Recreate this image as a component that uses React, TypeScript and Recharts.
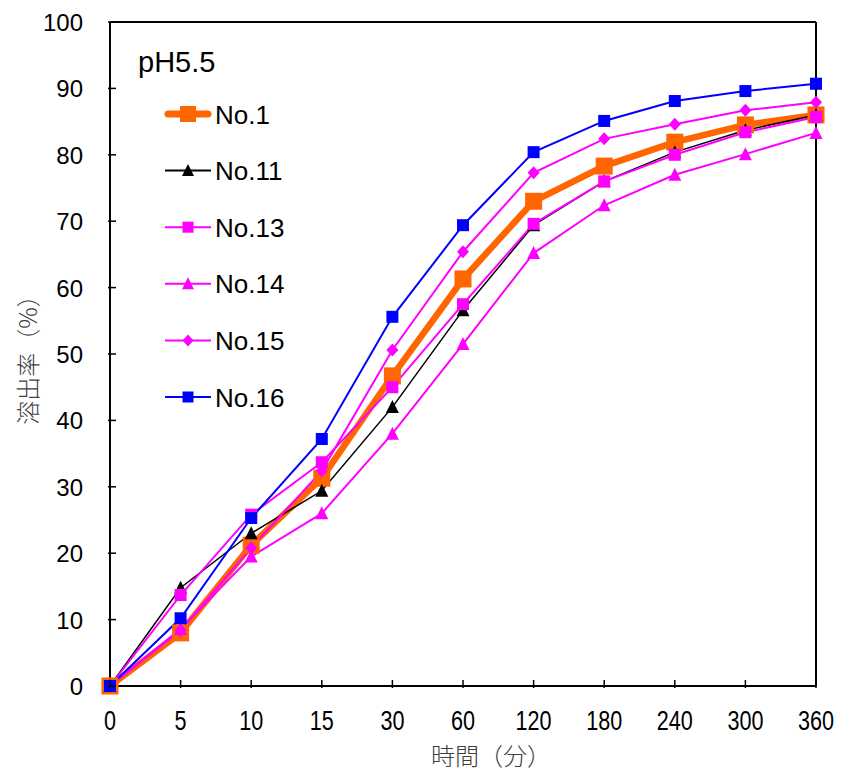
import React from "react";
import { LineChart, Line, XAxis, YAxis, ReferenceLine } from "recharts";

const times = ["0", "5", "10", "15", "30", "60", "120", "180", "240", "300", "360"];
const no1 = [0, 8.0, 21.2, 31.3, 46.7, 61.3, 73.0, 78.3, 81.9, 84.5, 86.0];
const no11 = [0, 14.8, 23.0, 29.4, 42.0, 56.6, 69.4, 76.0, 80.4, 83.7, 86.0];
const no13 = [0, 13.7, 25.8, 33.7, 45.0, 57.5, 69.6, 76.0, 80.0, 83.4, 85.7];
const no14 = [0, 8.6, 19.5, 26.0, 38.0, 51.5, 65.2, 72.4, 77.0, 80.1, 83.3];
const no15 = [0, 8.4, 20.8, 32.4, 50.6, 65.4, 77.3, 82.4, 84.6, 86.7, 87.9];
const no16 = [0, 10.2, 25.3, 37.2, 55.6, 69.4, 80.4, 85.1, 88.1, 89.6, 90.7];
const yTicks = [0, 10, 20, 30, 40, 50, 60, 70, 80, 90, 100];

const data = times.map((t, i) => ({
  t,
  no1: no1[i],
  no11: no11[i],
  no13: no13[i],
  no14: no14[i],
  no15: no15[i],
  no16: no16[i],
}));

const series = [
  { key: "no1", name: "No.1", color: "#FF6600", width: 6.5, shape: "square", size: 17 },
  { key: "no11", name: "No.11", color: "#000000", width: 1.5, shape: "triangle", size: 12 },
  { key: "no13", name: "No.13", color: "#FF00FF", width: 2, shape: "square", size: 12 },
  { key: "no14", name: "No.14", color: "#FF00FF", width: 2, shape: "triangle", size: 12 },
  { key: "no15", name: "No.15", color: "#FF00FF", width: 2, shape: "diamond", size: 12 },
  { key: "no16", name: "No.16", color: "#0000FF", width: 2, shape: "square", size: 12 },
];

const LATIN = "'Liberation Sans', Arial, sans-serif";
const CJK = "'Noto Sans CJK JP', sans-serif";

function Marker({ cx, cy, shape, size, color }: any) {
  const h = size / 2;
  if (shape === "square") {
    return <rect x={cx - h} y={cy - h} width={size} height={size} fill={color} />;
  }
  if (shape === "triangle") {
    return (
      <polygon
        points={`${cx},${cy - h - 1} ${cx + h + 0.5},${cy + h} ${cx - h - 0.5},${cy + h}`}
        fill={color}
      />
    );
  }
  return (
    <polygon
      points={`${cx},${cy - h - 0.5} ${cx + h},${cy} ${cx},${cy + h + 0.5} ${cx - h},${cy}`}
      fill={color}
    />
  );
}

const XTick = ({ x, y, payload }: any) => (
  <g>
    <line x1={x} y1={y} x2={x} y2={y - 8} stroke="#000" strokeWidth={1.5} />
    <text x={x} y={y + 42} textAnchor="middle" fontSize={27} fontFamily={LATIN} fill="#000"
      transform={`translate(${x},0) scale(0.8,1) translate(${-x},0)`}>
      {payload.value}
    </text>
  </g>
);

const YTick = ({ x, y, payload }: any) => (
  <g>
    <line x1={x} y1={y} x2={x + 8} y2={y} stroke="#000" strokeWidth={1.5} />
    <text x={x - 25} y={y + 9} textAnchor="end" fontSize={24} fontFamily={LATIN} fill="#000">
      {payload.value}
    </text>
  </g>
);

const XTitle = ({ viewBox }: any) => (
  <text x={viewBox.x + viewBox.width / 2 + 28} y={765} textAnchor="middle" fontSize={24}
    fontFamily={CJK} fontWeight={300} fill="#404040">
    時間（分）
  </text>
);

const YTitle = ({ viewBox }: any) => {
  const cy = viewBox.y + viewBox.height / 2;
  return (
    <text x={26} y={cy} transform={`rotate(-90, 26, ${cy})`} textAnchor="middle"
      dominantBaseline="central" fontSize={24} fontFamily={CJK} fontWeight={300} fill="#404040">
      溶出率（%）
    </text>
  );
};

// legend drawn as an overlay so it does not take room from the plot
const LegendBox = () => (
  <svg width={340} height={430} style={{ position: "absolute", left: 0, top: 0, pointerEvents: "none" }}>
    <text x={138} y={72} fontSize={29} fontFamily={LATIN} fill="#000">pH5.5</text>
    {series.map((s, i) => {
      const cy = 114 + i * 56.6;
      const big = s.key === "no1";
      return (
        <g key={s.key}>
          <line x1={big ? 168 : 165} y1={cy} x2={big ? 208 : 211} y2={cy} stroke={s.color}
            strokeWidth={big ? 7 : 2} strokeLinecap={big ? "round" : "butt"} />
          <Marker cx={188} cy={cy} shape={s.shape} size={big ? 16 : 11} color={s.color} />
          <text x={215} y={cy + 9.5} fontSize={26} fontFamily={LATIN} fill="#000">{s.name}</text>
        </g>
      );
    })}
  </svg>
);

export default function App() {
  return (
    <div style={{ position: "absolute", left: 0, top: 0, width: 842, height: 774, background: "#fff" }}>
      <LineChart width={842} height={774} data={data} margin={{ top: 22, right: 26, bottom: 28, left: 50 }}>
        <XAxis
          dataKey="t"
          tick={<XTick />}
          tickLine={false}
          tickSize={0}
          height={60}
          interval={0}
          axisLine={{ stroke: "#000", strokeWidth: 2 }}
          label={<XTitle />}
        />
        <YAxis
          domain={[0, 100]}
          ticks={yTicks}
          tick={<YTick />}
          tickLine={false}
          tickSize={0}
          width={60}
          interval={0}
          axisLine={{ stroke: "#000", strokeWidth: 2 }}
          label={<YTitle />}
        />
        <ReferenceLine y={100} stroke="#000" strokeWidth={2} />
        <ReferenceLine x="360" stroke="#000" strokeWidth={2} />
        {series.map((s) => (
          <Line
            key={s.key}
            dataKey={s.key}
            name={s.name}
            type="linear"
            stroke={s.color}
            strokeWidth={s.width}
            isAnimationActive={false}
            dot={(p: any) => (
              <Marker key={`${s.key}-${p.index}`} cx={p.cx} cy={p.cy} shape={s.shape} size={s.size} color={s.color} />
            )}
            activeDot={false}
          />
        ))}
      </LineChart>
      <LegendBox />
    </div>
  );
}
